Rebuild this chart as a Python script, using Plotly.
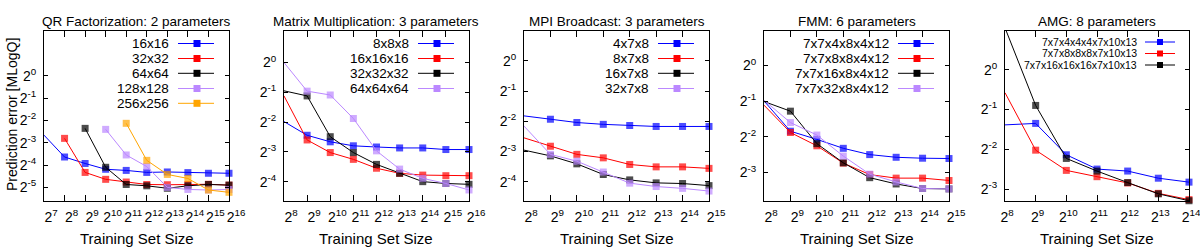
import plotly.graph_objects as go
import numpy as np

# ---------------- data ----------------
titles = ["QR Factorization: 2 parameters", "Matrix Multiplication: 3 parameters",
          "MPI Broadcast: 3 parameters", "FMM: 6 parameters", "AMG: 8 parameters"]

# panel 1: QR
qr_x = [128, 256, 512, 1024, 2048, 4096, 8192, 16384, 32768, 65536]
qr_names = ["16x16", "32x32", "64x64", "128x128", "256x256"]
qr_16 = [0.158, 0.0802, 0.0656, 0.0548, 0.0529, 0.0497, 0.0504, 0.0494, 0.0484, 0.0484]
qr_32 = [None, 0.143, 0.0497, 0.0401, 0.0369, 0.0342, 0.0339, 0.0342, 0.0344, 0.0335]
qr_64 = [None, None, 0.195, 0.0583, 0.0342, 0.0328, 0.0304, 0.0328, 0.0342, 0.0335]
qr_128 = [None, None, None, 0.189, 0.0854, 0.0596, 0.03125, 0.0293, 0.0288, 0.0293]
qr_256 = [None, None, None, None, 0.228, 0.0723, 0.0467, 0.0412, 0.0288, 0.0268]

# panel 2: matrix multiplication
mm_x = [256, 512, 1024, 2048, 4096, 8192, 16384, 32768, 65536]
mm_names = ["8x8x8", "16x16x16", "32x32x32", "64x64x64"]
mm_8 = [0.253, 0.184, 0.158, 0.144, 0.140, 0.137, 0.137, 0.132, 0.132]
mm_16 = [0.460, 0.165, 0.123, 0.105, 0.0854, 0.0759, 0.0728, 0.0718, 0.0718]
mm_32 = [0.518, 0.460, 0.178, 0.123, 0.0934, 0.0759, 0.0625, 0.0599, 0.0587]
mm_64 = [1.0, 0.514, 0.470, 0.272, 0.128, 0.0837, 0.0675, 0.0599, 0.0515]

# panel 3: MPI broadcast
mpi_x = [256, 512, 1024, 2048, 4096, 8192, 16384, 32768]
mpi_names = ["4x7x8", "8x7x8", "16x7x8", "32x7x8"]
mpi_4 = [0.283, 0.262, 0.243, 0.233, 0.227, 0.222, 0.222, 0.222]
mpi_8 = [0.171, 0.141, 0.117, 0.108, 0.0928, 0.0878, 0.0878, 0.0848]
mpi_16 = [0.129, 0.113, 0.0941, 0.0737, 0.0651, 0.0608, 0.0599, 0.0571]
mpi_32 = [0.224, 0.117, 0.100, 0.078, 0.0604, 0.0559, 0.0536, 0.0504]

# panel 4: FMM
fmm_x = [256, 512, 1024, 2048, 4096, 8192, 16384, 32768]
fmm_names = ["7x7x4x8x4x12", "7x7x8x8x4x12", "7x7x16x8x4x12", "7x7x32x8x4x12"]
fmm_4 = [0.503, 0.279, 0.238, 0.200, 0.177, 0.168, 0.165, 0.164]
fmm_8 = [0.463, 0.272, 0.210, 0.150, 0.120, 0.112, 0.112, 0.107]
fmm_16 = [0.497, 0.412, 0.219, 0.151, 0.113, 0.100, 0.0915, 0.0908]
fmm_32 = [0.510, 0.330, 0.259, 0.172, 0.121, 0.104, 0.0915, 0.0908]

# panel 5: AMG
amg_x = [256, 512, 1024, 2048, 4096, 8192, 16384]
amg_names = ["7x7x4x4x4x7x10x13", "7x7x8x8x8x7x10x13", "7x7x16x16x16x7x10x13"]
amg_4 = [0.382, 0.392, 0.227, 0.177, 0.171, 0.151, 0.141]
amg_8 = [0.669, 0.246, 0.173, 0.155, 0.139, 0.116, 0.104]
amg_16 = [2.07, 0.536, 0.213, 0.171, 0.140, 0.115, 0.102]

# axis settings (exponents of 2)
x_exp = [(7, 16), (8, 16), (8, 15), (8, 15), (8, 14)]
y_exp_range = [(-5.61, 2.0), (-4.65, 1.06), (-4.64, 0.99), (-3.80, 0.97), (-3.30, 0.97)]
y_ticks = [[-5, -4, -3, -2, -1, 0], [-4, -3, -2, -1, 0], [-4, -3, -2, -1, 0],
           [-3, -2, -1, 0], [-3, -2, -1, 0]]

panels = [
    (qr_x, qr_names, [qr_16, qr_32, qr_64, qr_128, qr_256]),
    (mm_x, mm_names, [mm_8, mm_16, mm_32, mm_64]),
    (mpi_x, mpi_names, [mpi_4, mpi_8, mpi_16, mpi_32]),
    (fmm_x, fmm_names, [fmm_4, fmm_8, fmm_16, fmm_32]),
    (amg_x, amg_names, [amg_4, amg_8, amg_16]),
]

colors = ["#0000ff", "#ff0000", "#000000", "#bb88ff", "#ffa500"]

# ---------------- layout ----------------
W, H = 1200, 250
px_left = [44, 284, 524, 764, 1005]
px_right = [229, 469, 709, 949, 1189]
px_top, px_bottom = 31, 201
FONT = "Liberation Sans, Arial, sans-serif"

fig = go.Figure()
shapes = []
annotations = []

for i, (xs, names, series) in enumerate(panels):
    n = "" if i == 0 else str(i + 1)
    xa, ya = "x" + n, "y" + n
    ylo, yhi = y_exp_range[i]
    for j, (name, ys) in enumerate(zip(names, series)):
        sizes = [0 if (v is not None and np.log2(v) > yhi) else 7 for v in ys]
        fig.add_trace(go.Scatter(
            x=xs, y=ys, name=name, mode="lines+markers", xaxis=xa, yaxis=ya,
            line=dict(color=colors[j], width=1),
            marker=dict(symbol="square", size=sizes, color=colors[j], line=dict(width=0)),
            cliponaxis=False, showlegend=False, connectgaps=False,
        ))
    x0, x1 = x_exp[i]
    tv = [2 ** k for k in range(x0, x1 + 1)]
    tt = ["2<sup>%d</sup>" % k for k in range(x0, x1 + 1)]
    axis_common = dict(type="log", showgrid=False, zeroline=False, showline=True,
                       linecolor="black", linewidth=1, mirror="ticks", ticks="inside",
                       tickcolor="black", tickwidth=1, tickangle=0,
                       ticklabeloverflow="allow",
                       tickfont=dict(family=FONT, size=14, color="black"))
    fig.layout["xaxis" + n] = dict(
        axis_common, domain=[px_left[i] / W, px_right[i] / W],
        range=[x0 * np.log10(2), x1 * np.log10(2)], ticklen=6,
        ticklabelshift=(2 if i == 4 else 7), ticklabelstandoff=3,
        tickvals=tv, ticktext=tt, anchor=ya, automargin=False)
    fig.layout["yaxis" + n] = dict(
        axis_common, domain=[1 - px_bottom / H, 1 - px_top / H],
        range=[ylo * np.log10(2), yhi * np.log10(2)], ticklen=4, ticklabelstandoff=4,
        tickvals=[2.0 ** k for k in y_ticks[i]],
        ticktext=["2<sup>%d</sup>" % k for k in y_ticks[i]], anchor=xa, automargin=False)

    cx = (px_left[i] + px_right[i]) / 2 / W
    annotations.append(dict(text=titles[i], x=cx, y=1 - 22 / H, xref="paper", yref="paper",
                            showarrow=False, xanchor="center", yanchor="middle",
                            font=dict(family=FONT, size=13.5, color="black")))
    annotations.append(dict(text="Training Set Size", x=cx, y=1 - 238 / H, xref="paper",
                            yref="paper", showarrow=False, xanchor="center", yanchor="middle",
                            font=dict(family=FONT, size=15, color="black")))

    # gnuplot-style key: text, then line sample with marker
    R = px_right[i]
    if i == 4:
        rows = [42, 53.5, 65]
        txt_r, l0, l1, mc, ms, fs = R - 50, R - 44, R - 14, R - 29, 6, 10.5
    else:
        rows = [43.5, 58.5, 73.3, 88.5, 103.3]
        txt_r, l0, l1, mc, ms, fs = R - 58, R - 51, R - 15, R - 32, 7, 13.5
    for j, name in enumerate(names):
        yy = rows[j]
        annotations.append(dict(text=name, x=txt_r / W, y=1 - yy / H, xref="paper",
                                yref="paper", showarrow=False, xanchor="right",
                                yanchor="middle",
                                font=dict(family=FONT, size=fs, color="black")))
        shapes.append(dict(type="line", xref="paper", yref="paper", x0=l0 / W, x1=l1 / W,
                           y0=1 - yy / H, y1=1 - yy / H, line=dict(color=colors[j], width=1)))
        shapes.append(dict(type="rect", xref="paper", yref="paper",
                           x0=(mc - ms / 2) / W, x1=(mc + ms / 2) / W,
                           y0=1 - (yy + ms / 2) / H, y1=1 - (yy - ms / 2) / H,
                           fillcolor=colors[j], line=dict(width=0)))

annotations.append(dict(text="Prediction error [MLogQ]", x=12 / W, y=1 - 115 / H,
                        xref="paper", yref="paper", showarrow=False, textangle=-90,
                        xanchor="center", yanchor="middle",
                        font=dict(family=FONT, size=14, color="black")))

fig.update_layout(width=W, height=H, margin=dict(l=0, r=0, t=0, b=0),
                  paper_bgcolor="white", plot_bgcolor="white",
                  shapes=shapes, annotations=annotations, showlegend=False)

fig.write_html("out.html", config={"displayModeBar": False},
               post_script="document.body.style.margin='0';document.body.style.overflow='hidden';")
